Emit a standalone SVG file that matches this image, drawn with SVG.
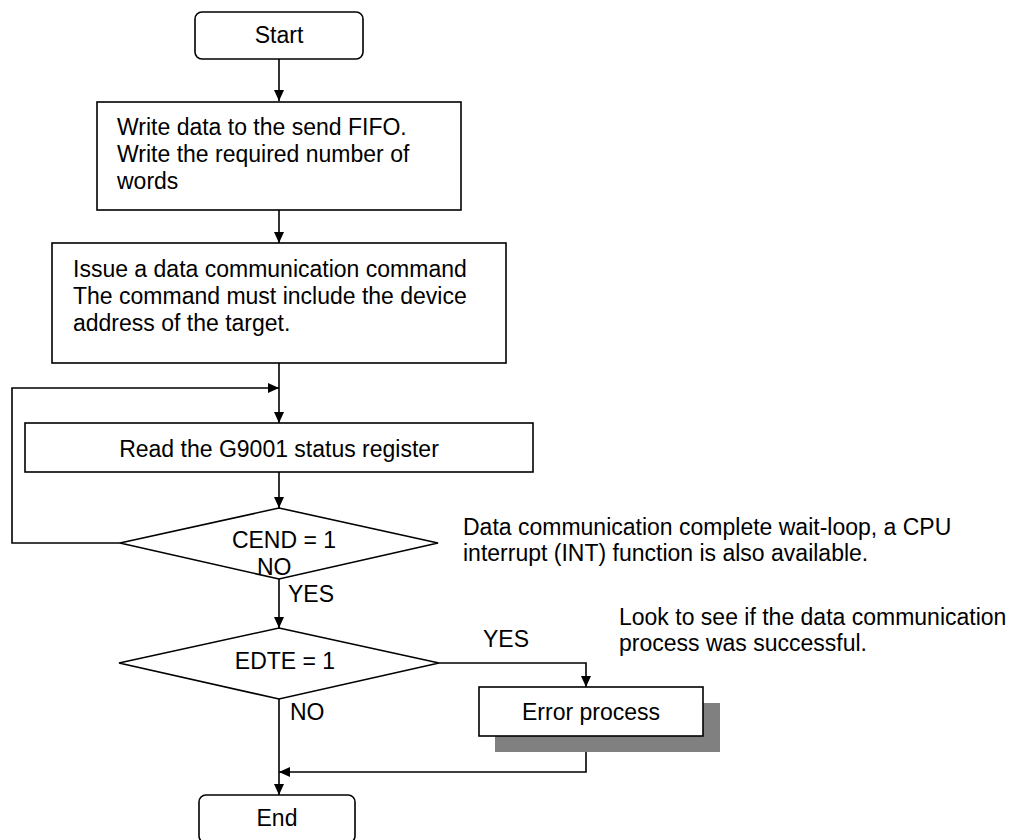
<svg xmlns="http://www.w3.org/2000/svg" width="1026" height="840" viewBox="0 0 1026 840">
<style>
text{font-family:"Liberation Sans",Arial,sans-serif;font-size:23px;fill:#000}
.box{fill:#fff;stroke:#000;stroke-width:1.6}
.ln{fill:none;stroke:#000;stroke-width:1.6}
.mid{text-anchor:middle}
</style>
<defs>
<marker id="ah" markerUnits="userSpaceOnUse" markerWidth="11" markerHeight="10" refX="11" refY="5" orient="auto">
<path d="M0,0 L11,5 L0,10 Z" fill="#000"/>
</marker>
</defs>
<rect width="1026" height="840" fill="#fff"/>
<g id="connectors">
<line class="ln" x1="279" y1="59" x2="279" y2="101" marker-end="url(#ah)"/>
<line class="ln" x1="279" y1="210" x2="279" y2="243" marker-end="url(#ah)"/>
<line class="ln" x1="279" y1="363" x2="279" y2="423" marker-end="url(#ah)"/>
<polyline class="ln" points="120,543 12,543 12,388 279,388" marker-end="url(#ah)"/>
<line class="ln" x1="279" y1="472" x2="279" y2="508" marker-end="url(#ah)"/>
<line class="ln" x1="279" y1="579" x2="279" y2="628" marker-end="url(#ah)"/>
<polyline class="ln" points="439,663 586,663 586,687" marker-end="url(#ah)"/>
<polyline class="ln" points="586,736 586,772 279,772" marker-end="url(#ah)"/>
<line class="ln" x1="279" y1="699" x2="279" y2="795" marker-end="url(#ah)"/>
</g>
<g id="start">
<rect class="box" x="195" y="12" width="168" height="47" rx="7"/>
<text class="mid" x="279" y="43">Start</text>
</g>
<g id="write">
<rect class="box" x="97" y="102" width="364" height="108"/>
<text x="117" y="135">Write data to the send FIFO.</text>
<text x="117" y="162">Write the required number of</text>
<text x="117" y="189">words</text>
</g>
<g id="issue">
<rect class="box" x="52" y="243" width="454" height="120"/>
<text x="73" y="277">Issue a data communication command</text>
<text x="73" y="304">The command must include the device</text>
<text x="73" y="331">address of the target.</text>
</g>
<g id="read">
<rect class="box" x="25" y="423" width="508" height="49"/>
<text class="mid" x="279" y="457">Read the G9001 status register</text>
</g>
<g id="cend">
<polygon class="box" points="279,508 438,543 279,579 120,543"/>
<text class="mid" x="284" y="548">CEND = 1</text>
</g>
<g id="edte">
<polygon class="box" points="279,628 439,663 279,699 119,663"/>
<text class="mid" x="285" y="669">EDTE = 1</text>
</g>
<g id="error">
<rect x="495" y="703" width="225" height="49" fill="#808080"/>
<rect class="box" x="479" y="687" width="224" height="49"/>
<text class="mid" x="591" y="720">Error process</text>
</g>
<g id="end">
<rect class="box" x="199" y="795" width="156" height="48" rx="7"/>
<text class="mid" x="277" y="826">End</text>
</g>
<g id="labels">
<text x="257" y="575">NO</text>
<text x="288" y="602">YES</text>
<text x="483" y="647">YES</text>
<text x="290" y="720">NO</text>
</g>
<g id="notes">
<text x="463" y="535">Data communication complete wait-loop, a CPU</text>
<text x="463" y="561">interrupt (INT) function is also available.</text>
<text x="619" y="625">Look to see if the data communication</text>
<text x="619" y="651">process was successful.</text>
</g>
</svg>
